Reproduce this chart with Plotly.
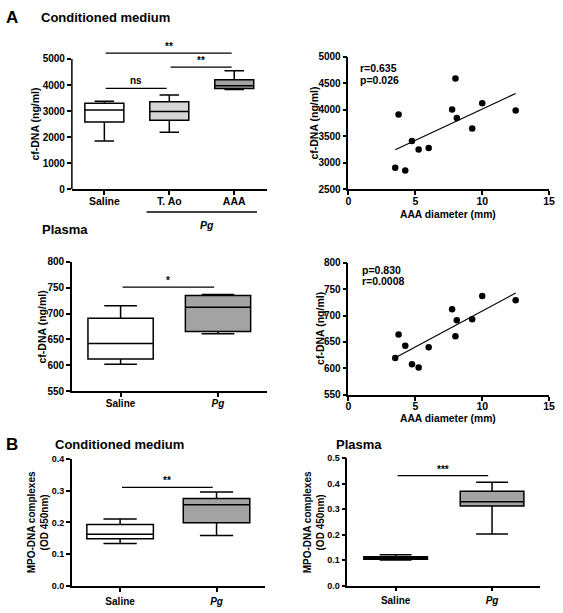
import numpy as np
import plotly.graph_objects as go

W, H = 563, 613
FONT = "Liberation Sans"

# ---------------- data ----------------
# A: conditioned medium cf-DNA (box stats)
cm_groups = ["Saline", "T. Ao", "AAA"]
cm_labels = ["Saline", "T. Ao", "AAA"]
cm_min = [1850, 2190, 3825]
cm_q1 = [2585, 2645, 3870]
cm_med = [3045, 2980, 3975]
cm_q3 = [3300, 3360, 4200]
cm_max = [3375, 3620, 4550]
cm_sig = [("Saline", "AAA", 5224, "**"), ("T. Ao", "AAA", 4687, "**"), ("Saline", "T. Ao", 3874, "ns")]

# A: plasma cf-DNA (box stats)
pl_groups = ["Saline", "Pg"]
pl_labels = ["Saline", "<i>Pg</i>"]
pl_min = [602, 661]
pl_q1 = [612, 665]
pl_med = [642, 712]
pl_q3 = [691, 735]
pl_max = [715, 737]
pl_sig = [("Saline", "Pg", 751, "*")]

# A: correlation with AAA diameter
diam = [3.5, 3.75, 4.25, 4.75, 5.25, 6.0, 7.75, 8.0, 8.1, 9.25, 10.0, 12.5]
cm_cfdna = [2907, 3913, 2857, 3413, 3254, 3283, 4006, 4593, 3846, 3648, 4124, 3987]
pl_cfdna = [620, 664, 643, 608, 602, 640, 712, 661, 691, 693, 737, 729]
cm_stats = ["r=0.635", "p=0.026"]
pl_stats = ["p=0.830", "r=0.0008"]

# B: MPO-DNA complexes
mpo_groups = ["Saline", "Pg"]
mpo_labels = ["Saline", "<i>Pg</i>"]
mcm_min = [0.1335, 0.159]
mcm_q1 = [0.149, 0.199]
mcm_med = [0.163, 0.255]
mcm_q3 = [0.193, 0.275]
mcm_max = [0.211, 0.295]
mcm_sig = [("Saline", "Pg", 0.310, "**")]

mpl_min = [0.101, 0.202]
mpl_q1 = [0.104, 0.3125]
mpl_med = [0.108, 0.329]
mpl_q3 = [0.113, 0.370]
mpl_max = [0.121, 0.405]
mpl_sig = [("Saline", "Pg", 0.431, "***")]

# ---------------- helpers ----------------
def xd(a, b):
    return [a / W, b / W]

def yd(top, bottom):
    return [1 - bottom / H, 1 - top / H]

def px(v):
    return v / W

def py(v):
    return 1 - v / H

def tf(size=10, italic=False):
    return dict(family=FONT, size=size, color="black", weight="bold",
                style="italic" if italic else "normal")

AX = dict(showline=True, linecolor="black", linewidth=1.5, ticks="outside",
          ticklen=4, tickwidth=1.5, tickcolor="black", showgrid=False,
          zeroline=False, mirror=False, fixedrange=True)

fig = go.Figure()
shapes = []
annotations = []

def add_boxes(groups, q1, med, q3, lo, hi, fills, width, xa, ya):
    for i, g in enumerate(groups):
        fig.add_trace(go.Box(
            x=[g], q1=[q1[i]], median=[med[i]], q3=[q3[i]],
            lowerfence=[lo[i]], upperfence=[hi[i]],
            fillcolor=fills[i], line=dict(color="black", width=1.5),
            width=width, whiskerwidth=0.5, boxpoints=False,
            showlegend=False, xaxis=xa, yaxis=ya, hoverinfo="skip"))

def add_sig(groups, sigs, xa, ya, size=10):
    for a, b, lvl, txt in sigs:
        i, j = groups.index(a), groups.index(b)
        shapes.append(dict(type="line", xref=xa, yref=ya, x0=i + 0.02, x1=j - 0.04,
                           y0=lvl, y1=lvl, line=dict(color="black", width=1.3)))
        annotations.append(dict(xref=xa, yref=ya, x=(i + j - 0.02) / 2, y=lvl,
                                text=txt, showarrow=False, yanchor="bottom",
                                yshift=-1 if "*" in txt else 0,
                                font=tf(size)))

# ---------- A1: conditioned medium box ----------
a1_top = 187 - (187 - 54) * 5500 / 5000
fig.update_layout(
    xaxis=dict(AX, domain=xd(70, 268), anchor="y", type="category",
               categoryorder="array", categoryarray=cm_groups, range=[-0.5, 2.5],
               tickmode="array", tickvals=cm_groups, ticktext=cm_labels,
               tickfont=tf(10.5), ticklabelstandoff=-3),
    yaxis=dict(AX, domain=yd(a1_top, 187), anchor="x", range=[0, 5500],
               showline=False, tickmode="array", tickvals=[0, 1000, 2000, 3000, 4000, 5000],
               tickfont=tf(10)),
)
add_boxes(cm_groups, cm_q1, cm_med, cm_q3, cm_min, cm_max,
          ["white", "#d6d6d6", "#a3a3a3"], 0.6, "x", "y")
shapes.append(dict(type="line", xref="x domain", yref="y", x0=0, x1=0, y0=0, y1=5000,
                   line=dict(color="black", width=1.5)))
add_sig(cm_groups, cm_sig, "x", "y")
# Pg group bracket under T. Ao and AAA
shapes.append(dict(type="line", xref="x", yref="paper", x0=1 - 0.35, x1=2 + 0.35,
                   y0=py(210), y1=py(210), line=dict(color="black", width=1.5)))
annotations.append(dict(xref="x", yref="paper", x=1.58, y=py(223), text="<i>Pg</i>",
                        showarrow=False, font=tf(10.5)))

# ---------- A2: conditioned medium correlation ----------
fig.update_layout(
    xaxis2=dict(AX, domain=xd(351, 555), anchor="y2", range=[0, 15],
                tickmode="array", tickvals=[0, 5, 10, 15], tickfont=tf(10.5),
                ticklabelstandoff=-3),
    yaxis2=dict(AX, domain=yd(52, 187), anchor="x2", range=[2500, 5000],
                tickmode="array", tickvals=[2500, 3000, 3500, 4000, 4500, 5000],
                tickfont=tf(10)),
)
fig.add_trace(go.Scatter(x=diam, y=cm_cfdna, mode="markers", xaxis="x2", yaxis="y2",
                         marker=dict(color="black", size=6.5), showlegend=False,
                         hoverinfo="skip"))
k, b = np.polyfit(diam, cm_cfdna, 1)
xl = np.array([min(diam), max(diam)])
fig.add_trace(go.Scatter(x=xl, y=k * xl + b, mode="lines", xaxis="x2", yaxis="y2",
                         line=dict(color="black", width=1.2), showlegend=False,
                         hoverinfo="skip"))

# ---------- A3: plasma box ----------
fig.update_layout(
    xaxis3=dict(AX, domain=xd(70, 268), anchor="y3", type="category",
                categoryorder="array", categoryarray=pl_groups, range=[-0.5, 1.5],
                tickmode="array", tickvals=pl_groups, ticktext=pl_labels,
                tickfont=tf(10), ticklabelstandoff=-2),
    yaxis3=dict(AX, domain=yd(261, 392.7), anchor="x3", range=[550, 800],
                tickmode="array", tickvals=[550, 600, 650, 700, 750, 800],
                tickfont=tf(10)),
)
add_boxes(pl_groups, pl_q1, pl_med, pl_q3, pl_min, pl_max,
          ["white", "#a3a3a3"], 0.67, "x3", "y3")
add_sig(pl_groups, pl_sig, "x3", "y3")

# ---------- A4: plasma correlation ----------
fig.update_layout(
    xaxis4=dict(AX, domain=xd(351, 555), anchor="y4", range=[0, 15],
                tickmode="array", tickvals=[0, 5, 10, 15], tickfont=tf(10.5),
                ticklabelstandoff=-3),
    yaxis4=dict(AX, domain=yd(261.7, 396.7), anchor="x4", range=[550, 800],
                tickmode="array", tickvals=[550, 600, 650, 700, 750, 800],
                tickfont=tf(10)),
)
fig.add_trace(go.Scatter(x=diam, y=pl_cfdna, mode="markers", xaxis="x4", yaxis="y4",
                         marker=dict(color="black", size=6.5), showlegend=False,
                         hoverinfo="skip"))
k2, b2 = np.polyfit(diam, pl_cfdna, 1)
fig.add_trace(go.Scatter(x=xl, y=k2 * xl + b2, mode="lines", xaxis="x4", yaxis="y4",
                         line=dict(color="black", width=1.2), showlegend=False,
                         hoverinfo="skip"))

# ---------- B1: MPO-DNA conditioned medium ----------
fig.update_layout(
    xaxis5=dict(AX, domain=xd(70, 266), anchor="y5", type="category",
                categoryorder="array", categoryarray=mpo_groups, range=[-0.5, 1.5],
                tickmode="array", tickvals=mpo_groups, ticktext=mpo_labels,
                tickfont=tf(10), ticklabelstandoff=1),
    yaxis5=dict(AX, domain=yd(461.7, 591.7), anchor="x5", range=[0, 0.4],
                tickmode="array", tickvals=[0, 0.1, 0.2, 0.3, 0.4],
                ticktext=["0.0", "0.1", "0.2", "0.3", "0.4"], tickfont=tf(9)),
)
add_boxes(mpo_groups, mcm_q1, mcm_med, mcm_q3, mcm_min, mcm_max,
          ["white", "#a3a3a3"], 0.69, "x5", "y5")
add_sig(mpo_groups, mcm_sig, "x5", "y5")

# ---------- B2: MPO-DNA plasma ----------
fig.update_layout(
    xaxis6=dict(AX, domain=xd(350, 546), anchor="y6", type="category",
                categoryorder="array", categoryarray=mpo_groups, range=[-0.5, 1.5],
                tickmode="array", tickvals=mpo_groups, ticktext=mpo_labels,
                tickfont=tf(10), ticklabelstandoff=1),
    yaxis6=dict(AX, domain=yd(461, 591.3), anchor="x6", range=[0, 0.5],
                tickmode="array", tickvals=[0, 0.1, 0.2, 0.3, 0.4, 0.5],
                ticktext=["0.0", "0.1", "0.2", "0.3", "0.4", "0.5"], tickfont=tf(9)),
)
add_boxes(mpo_groups, mpl_q1, mpl_med, mpl_q3, mpl_min, mpl_max,
          ["white", "#a3a3a3"], 0.66, "x6", "y6")
add_sig(mpo_groups, mpl_sig, "x6", "y6")

# ---------- text ----------
def txt(x, y, s, size=10, xanchor="center", yanchor="middle", angle=0):
    annotations.append(dict(xref="paper", yref="paper", x=px(x), y=py(y), text=s,
                            showarrow=False, xanchor=xanchor, yanchor=yanchor,
                            textangle=angle, font=tf(size)))

txt(1, 12, "A", 17, xanchor="left")
txt(37, 12, "Conditioned medium", 13, xanchor="left")
txt(38, 228, "Plasma", 13, xanchor="left")
txt(1, 447, "B", 17, xanchor="left")
txt(51, 447, "Conditioned medium", 13, xanchor="left")
txt(336, 447, "Plasma", 13, xanchor="left")

# y titles
txt(33, 120.5, "cf-DNA (ng/ml)", 10.5, angle=-90)
txt(316.5, 119.5, "cf-DNA (ng/ml)", 10.5, angle=-90)
txt(39.5, 327, "cf-DNA (ng/ml)", 10.5, angle=-90)
txt(321.5, 329, "cf-DNA (ng/ml)", 10.5, angle=-90)
txt(35.5, 526.7, "MPO-DNA complexes<br>(OD 450nm)", 10, angle=-90)
txt(315.5, 526.2, "MPO-DNA complexes<br>(OD 450nm)", 10, angle=-90)

# x titles
txt(452.5, 212.5, "AAA diameter (mm)", 10.3)
txt(452.5, 421, "AAA diameter (mm)", 10.3)

# correlation stats
txt(361, 63, cm_stats[0], 10.5, xanchor="left")
txt(361, 75, cm_stats[1], 10.5, xanchor="left")
txt(363, 269, pl_stats[0], 10.5, xanchor="left")
txt(363, 281, pl_stats[1], 10.5, xanchor="left")

fig.update_layout(
    width=W, height=H, margin=dict(l=0, r=0, t=0, b=0),
    paper_bgcolor="white", plot_bgcolor="white",
    font=dict(family=FONT, color="black"),
    shapes=shapes, annotations=annotations, showlegend=False,
)

fig.write_html("out.html", config={"displayModeBar": False},
               post_script="document.body.style.margin='0';document.body.style.overflow='hidden';")
